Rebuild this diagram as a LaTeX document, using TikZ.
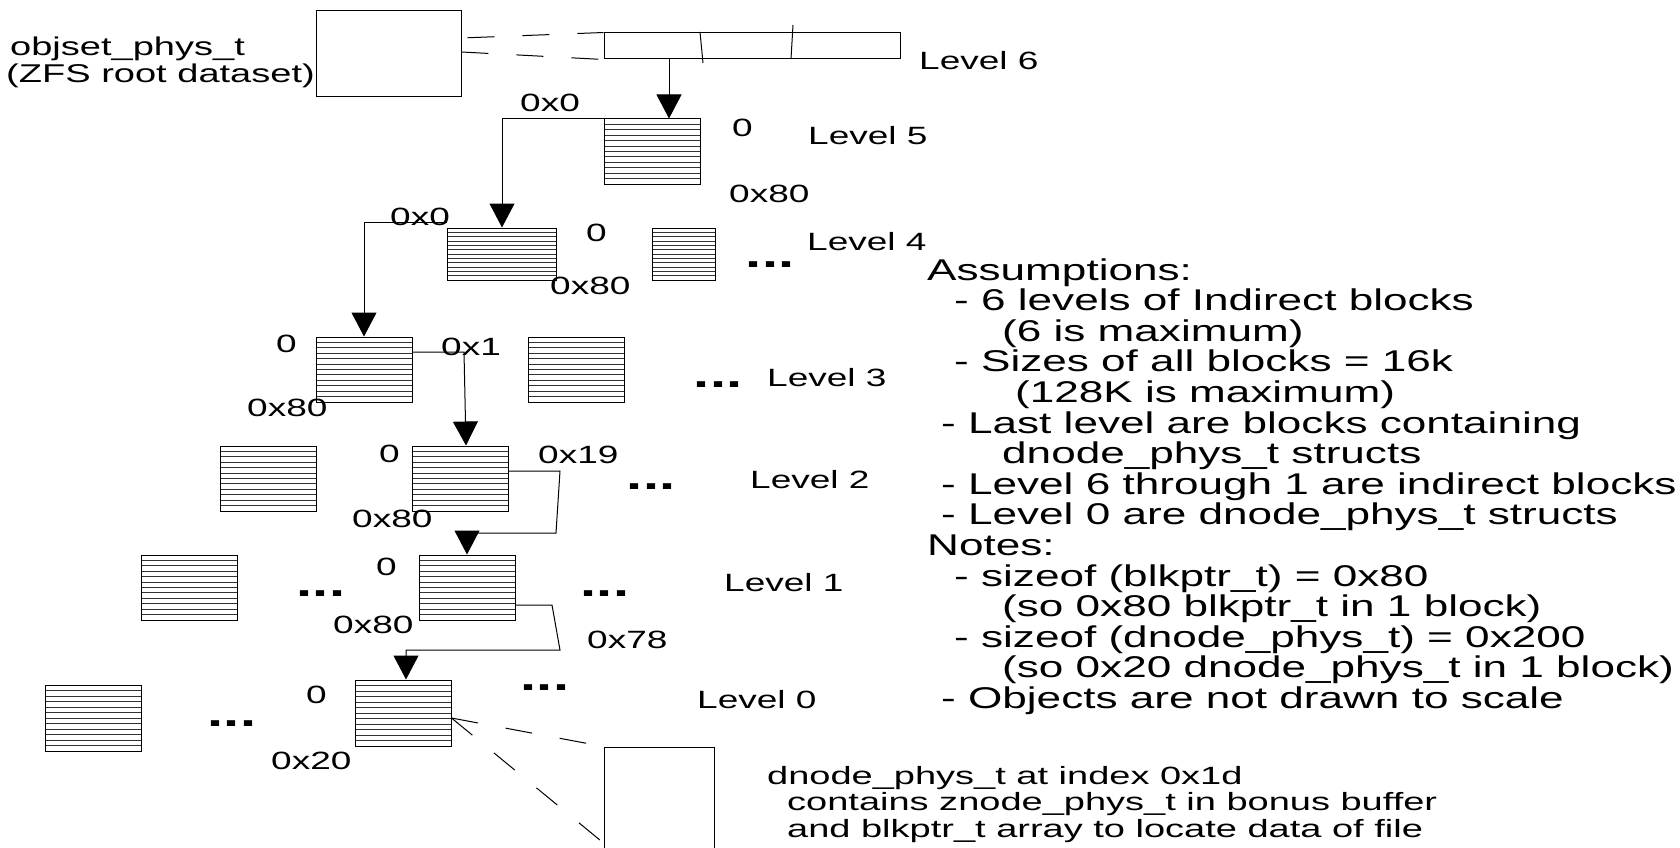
\documentclass[tikz,border=0pt]{standalone}
\usepackage{fontspec}
\setmainfont{Liberation Sans}[FakeStretch=1.48]
\newfontfamily\notesfont{Liberation Sans}[FakeStretch=1.47]
\newfontfamily\lowfont{Liberation Sans}[FakeStretch=1.52]
\usetikzlibrary{arrows.meta,calc}
\tikzset{
  box/.style={draw, line width=1pt, inner sep=0pt, rectangle},
  hatchln/.style={line width=1pt, black!80},
  blk/.style={box, minimum width=96pt, minimum height=65pt,
    path picture={
      \foreach \k in {1,...,11}{
        \draw[hatchln] ($(path picture bounding box.north west)!\k/12!(path picture bounding box.south west)$) --
                       ($(path picture bounding box.north east)!\k/12!(path picture bounding box.south east)$);
      }
    }},
  conn/.style={line width=1pt},
  arr/.style={line width=1pt, -{Triangle[width=25pt,length=24pt]}},
  dashln/.style={line width=1pt, dash pattern=on 27pt off 28pt},
  lbl/.style={font=\fontsize{25}{27}\selectfont, inner sep=0pt, anchor=base west},
  objlbl/.style={font=\fontsize{25.7}{28}\selectfont, inner sep=0pt, anchor=base west},
  dots/.style={font=\fontsize{39}{40}\selectfont\bfseries, inner sep=0pt, anchor=base},
  notetxt/.style={font=\notesfont\fontsize{30}{31}\selectfont, inner sep=0pt, anchor=base west},
  lowtxt/.style={font=\lowfont\fontsize{25}{27}\selectfont, inner sep=0pt, anchor=base west},
}
\begin{document}
\begin{tikzpicture}[x=1pt,y=-1pt]
\useasboundingbox (0,0) rectangle (1680,848);
\clip (0,0) rectangle (1680,848);

% top objects
\node[box, minimum width=145pt, minimum height=86pt] (obj) at (388.5,54) {};
\node[objlbl] (objt1) at (10,56) {objset\_phys\_t};
\node[objlbl] (objt2) at (6,83) {(ZFS root dataset)};
\node[box, minimum width=296pt, minimum height=26pt] (bar) at (752,46) {};
\draw[conn] (700,32) -- (703,63);
\draw[conn] (793,25) -- (791,59);
\node[lbl] (l6) at (919,69.5) {Level 6};

\coordinate (o1) at (0,38);
\coordinate (o2) at (0,52);
\draw[dashln, dash phase=49pt] (o1 -| obj.east) -- (bar.north west);
\draw[dashln] (o2 -| obj.east) -- (bar.south west);

% blocks
\node[blk] (b5) at (652,151.5) {};
\node[blk, minimum width=109pt, minimum height=52pt] (b4) at (501.5,254) {};
\node[blk, minimum width=63pt, minimum height=52pt] (b4b) at (683.5,254) {};
\node[blk] (b3) at (364,369.5) {};
\node[blk] (b3b) at (576.5,369.5) {};
\node[blk] (b2a) at (268,478.5) {};
\node[blk] (b2) at (460,478.5) {};
\node[blk] (b1a) at (189.5,587.5) {};
\node[blk] (b1) at (467,587.5) {};
\node[blk, minimum height=66pt] (b0a) at (93,718) {};
\node[blk, minimum height=66pt] (b0) at (403,713) {};
\node[box, minimum width=110pt, minimum height=123pt] (big) at (659,808.5) {};

% connectors
\coordinate (a6) at (669,0);
\draw[arr] (a6 |- bar.south) -- (a6 |- b5.north);
\coordinate (k5) at (502,0);
\draw[arr] (b5.north west) -- (k5 |- b5.north west) -- (k5 |- b4.north);
\coordinate (k4) at (364,222);
\draw[arr] (k4 -| b4.west) -- (k4) -- (b3.north);
\coordinate (k3) at (464,352);
\coordinate (k3e) at (466,0);
\draw[arr] (k3 -| b3.east) -- (k3) -- (k3e |- b2.north);
\coordinate (k2a) at (560,471);
\coordinate (k2b) at (556,533);
\draw[arr] (k2a -| b2.east) -- (k2a) -- (k2b) -- (k2b -| b1.north) -- (b1.north);
\coordinate (k1a) at (552,605);
\coordinate (k1b) at (560,650);
\coordinate (k1c) at (406,650);
\draw[arr] (k1a -| b1.east) -- (k1a) -- (k1b) -- (k1c) -- (k1c |- b0.north);

\coordinate (d0) at (0,718);
\coordinate (d1) at (0,843);
\draw[dashln] (d0 -| b0.east) -- (big.north west);
\draw[dashln] (d0 -| b0.east) -- (d1 -| big.west);

% labels
\node[lbl] (t5a) at (732,136) {0};
\node[lbl] (t5b) at (729,202.5) {0x80};
\node[lbl] (l5) at (808,144.7) {Level 5};
\node[lbl] (c5) at (520,112) {0x0};

\node[lbl] (t4a) at (586,241) {0};
\node[lbl] (t4b) at (550,294) {0x80};
\node[lbl] (l4) at (807,250.5) {Level 4};
\node[lbl] (c4) at (390,225) {0x0};

\node[lbl] (t3a) at (276,352) {0};
\node[lbl] (t3b) at (247,416) {0x80};
\node[lbl] (l3) at (767,386) {Level 3};
\node[lbl] (c3) at (441,355) {0x1};

\node[lbl] (t2a) at (379,462) {0};
\node[lbl] (t2b) at (352,527) {0x80};
\node[lbl] (l2) at (750,488) {Level 2};
\node[lbl] (c2) at (538,463) {0x19};

\node[lbl] (t1a) at (376,575) {0};
\node[lbl] (t1b) at (333,633) {0x80};
\node[lbl] (l1) at (724,591) {Level 1};
\node[lbl] (c1) at (587,648) {0x78};

\node[lbl] (t0a) at (306,703) {0};
\node[lbl] (t0b) at (271,769) {0x20};
\node[lbl] (l0) at (697,708) {Level 0};

% ellipses
\node[dots] (e4) at (770,267.7) {...};
\node[dots] (e3) at (718,387.7) {...};
\node[dots] (e2) at (651,489.7) {...};
\node[dots] (e1a) at (321,596.7) {...};
\node[dots] (e1b) at (605,596.7) {...};
\node[dots] (e0b) at (545,690.7) {...};
\node[dots] (e0a) at (232,726.7) {...};

% notes
\foreach \xx/\txt [count=\i from 0] in {
  927/Assumptions:,
  954/- 6 levels of Indirect blocks,
  1002/(6 is maximum),
  954/- Sizes of all blocks = 16k,
  1015/(128K is maximum),
  941/- Last level are blocks containing,
  1002/dnode\_phys\_t structs,
  941/- Level 6 through 1 are indirect blocks,
  941/- Level 0 are dnode\_phys\_t structs,
  927/Notes:,
  954/- sizeof (blkptr\_t) = 0x80,
  1002/(so 0x80 blkptr\_t in 1 block),
  954/- sizeof (dnode\_phys\_t) = 0x200,
  1002/(so 0x20 dnode\_phys\_t in 1 block),
  941/- Objects are not drawn to scale}{
  \node[notetxt] (n\i) at (\xx, 280+30.6*\i) {\txt};
}

\node[lowtxt] (w1) at (767,784) {dnode\_phys\_t at index 0x1d};
\node[lowtxt] (w2) at (787,810.5) {contains znode\_phys\_t in bonus buffer};
\node[lowtxt] (w3) at (787,837) {and blkptr\_t array to locate data of file};
\end{tikzpicture}
\end{document}
